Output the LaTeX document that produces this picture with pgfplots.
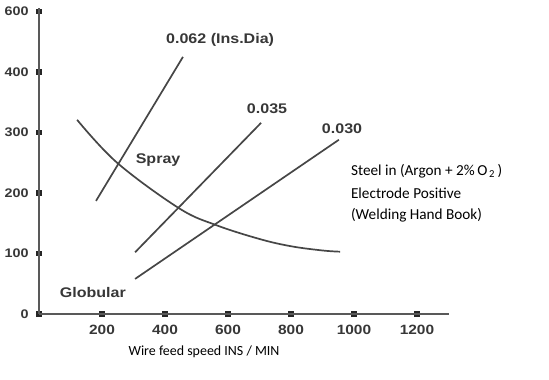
\documentclass[border=0pt]{standalone}
\usepackage{fontspec}
\setmainfont{Carlito}
\newfontfamily\lsb{Liberation Sans Bold}[FakeStretch=1.15]
\usepackage{pgfplots}
\pgfplotsset{compat=1.18}
\definecolor{lineg}{RGB}{70,70,70}
\definecolor{txtg}{RGB}{55,55,55}
\begin{document}
\begin{tikzpicture}
\useasboundingbox (-39bp,-66bp) rectangle (510bp,314bp);
\begin{axis}[
  scale only axis,
  width=409.5bp, height=305.5bp,
  xmin=0, xmax=1300, ymin=0, ymax=505,
  axis lines=left,
  axis line style={-, line width=2bp, color=black!65},
  y axis line style={line width=2.6bp},
  xtick={0,200,400,600,800,1000,1200},
  xticklabels={,200,400,600,800,1000,1200},
  ytick={0,100,200,300,400,500},
  yticklabels={0,100,200,300,400,600},
  tick align=center,
  major tick length=6bp,
  tick style={line width=5.5bp, black!85},
  /pgf/number format/assume math mode=true,
  ticklabel style={font=\lsb\fontsize{13.5}{13.5}\selectfont, text=txtg},
  xticklabel style={yshift=-5bp},
  yticklabel style={xshift=-4bp, font=\lsb\fontsize{12.5}{12.5}\selectfont},
  clip=false,
]
% Spray transition curve
\addplot[lineg, line width=1.7bp, smooth, tension=0.6] coordinates {
  (121,321) (248,250) (444,175) (562,147) (700,124) (800,112) (900,105) (956,103)};
% 0.062 line
\addplot[lineg, line width=1.7bp] coordinates {(181,187) (457,425)};
% 0.035 line
\addplot[lineg, line width=1.7bp] coordinates {(305,102) (705,316)};
% 0.030 line
\addplot[lineg, line width=1.7bp] coordinates {(305,58) (952,288)};

\begin{scope}[every node/.style={font=\lsb\fontsize{14}{14}\selectfont, text=txtg}]
\node at (axis cs:575,453) {0.062 (Ins.Dia)};
\node at (axis cs:724,340) {0.035};
\node at (axis cs:962,307) {0.030};
\node at (axis cs:378,255) {Spray};
\node at (axis cs:171,35) {Globular};
\end{scope}

\begin{scope}[every node/.style={font=\fontsize{15.3}{15.3}\selectfont, anchor=west, inner sep=0pt}]
\node at (axis cs:990,236) {Steel in (Argon + 2\%\,O\textsubscript{\,2}\,)};
\node at (axis cs:990,200) {Electrode Positive};
\node at (axis cs:990,164) {(Welding Hand Book)};
\end{scope}
\node[font=\fontsize{14}{14}\selectfont] at (axis cs:524,-63) {Wire feed speed INS / MIN};
\end{axis}
\end{tikzpicture}
\end{document}
